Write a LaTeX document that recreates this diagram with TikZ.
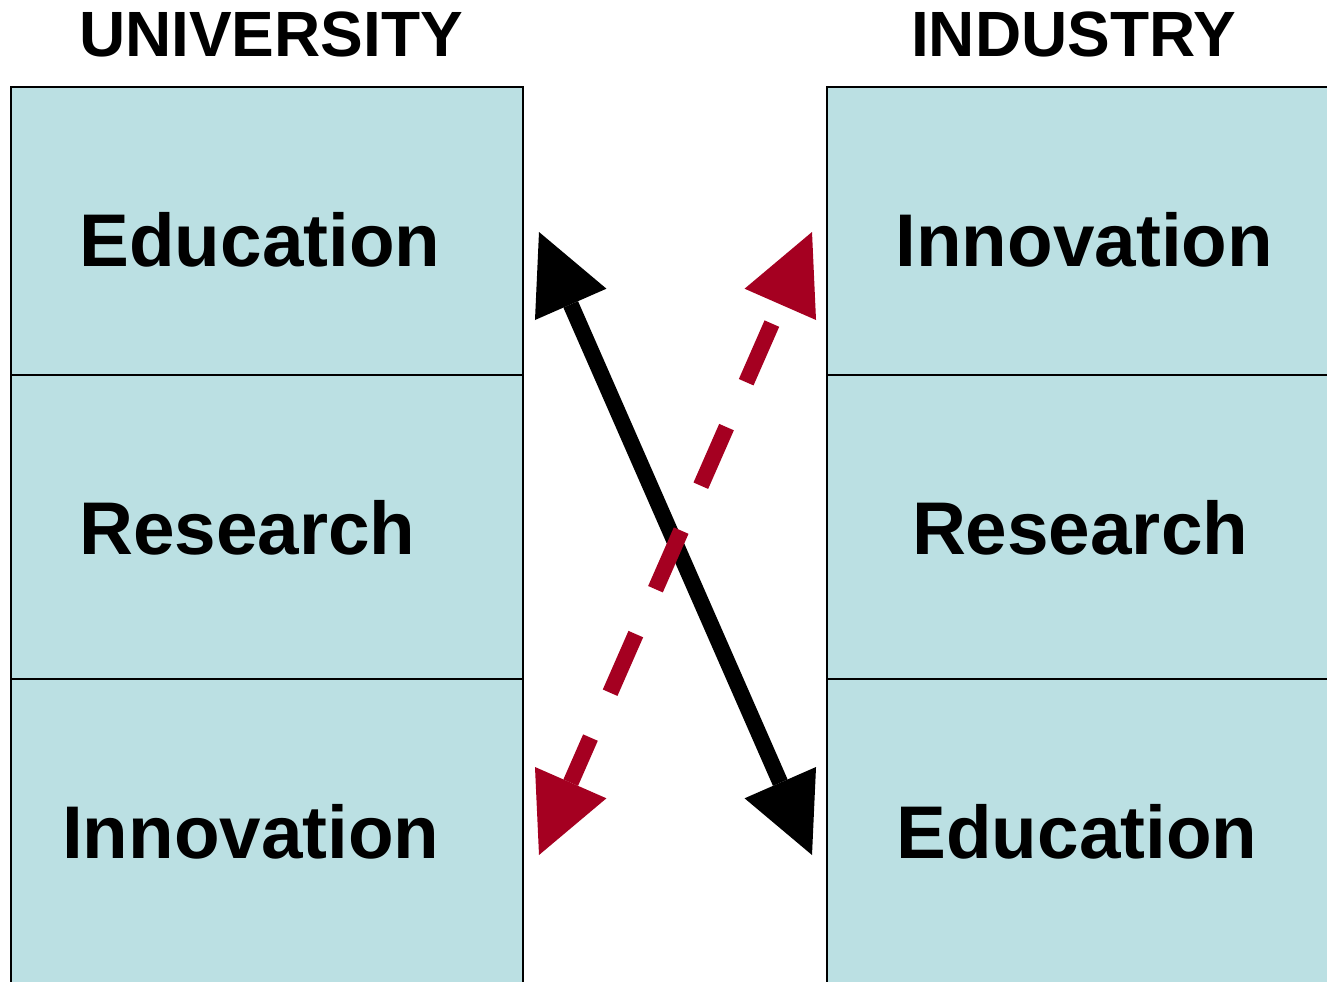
\documentclass[tikz,border=0pt]{standalone}
\usepackage{fontspec}
\setmainfont{Liberation Sans}
\usetikzlibrary{arrows.meta}
\definecolor{cellblue}{HTML}{BBE0E3}
\definecolor{arrowred}{HTML}{A50021}
\tikzset{
  cell/.style={draw=black, line width=1pt, fill=cellblue, rectangle, inner sep=0pt, outer sep=0pt, anchor=north west},
  lbl/.style={inner sep=0pt, outer sep=0pt, anchor=base west, font=\bfseries\fontsize{56}{60}\selectfont},
  ttl/.style={inner sep=0pt, outer sep=0pt, anchor=base west, font=\bfseries\fontsize{48}{52}\selectfont},
  bigtip/.tip={Triangle[length=59.25pt, width=58.5pt, line width=0pt]},
  solidarrow/.style={draw=black, line width=12pt, {bigtip}-{bigtip}},
  dasharrow/.style={draw=arrowred, line width=12pt, {bigtip}-{bigtip}, dash pattern=on 48pt off 36.75pt, dash phase=69pt}
}
\begin{document}
\begin{tikzpicture}[x=0.75pt, y=-0.75pt]
\useasboundingbox (0,0) rectangle (1327,981);
\clip (0,0) rectangle (1327,981);
\fill[white] (0,0) rectangle (1327,981);
% titles
\node[ttl] (tuni) at (79,57) {UNIVERSITY};
\node[ttl] (tind) at (911,57) {INDUSTRY};
% university column
\node[cell, minimum width=384pt, minimum height=216pt] (u1) at (11,87) {};
\node[cell, minimum width=384pt, minimum height=228pt] (u2) at (11,375) {};
\node[cell, minimum width=384pt, minimum height=247.5pt] (u3) at (11,679) {};
% industry column
\node[cell, minimum width=390pt, minimum height=216pt] (i1) at (827,87) {};
\node[cell, minimum width=390pt, minimum height=228pt] (i2) at (827,375) {};
\node[cell, minimum width=390pt, minimum height=247.5pt] (i3) at (827,679) {};
% labels
\node[lbl] (lu1) at (79.5,266) {Education};
\node[lbl] (lu2) at (79.3,554) {Research};
\node[lbl] (lu3) at (62,858) {Innovation};
\node[lbl] (li1) at (895.5,266) {Innovation};
\node[lbl] (li2) at (912,554) {Research};
\node[lbl] (li3) at (896.5,858) {Education};
% arrow end points
\coordinate (ue) at (539,232);
\coordinate (ui) at (539,855);
\coordinate (ii) at (812,232);
\coordinate (ie) at (812,855);
\draw[solidarrow] (ue) -- (ie);
\draw[dasharrow] (ii) -- (ui);
\end{tikzpicture}
\end{document}
